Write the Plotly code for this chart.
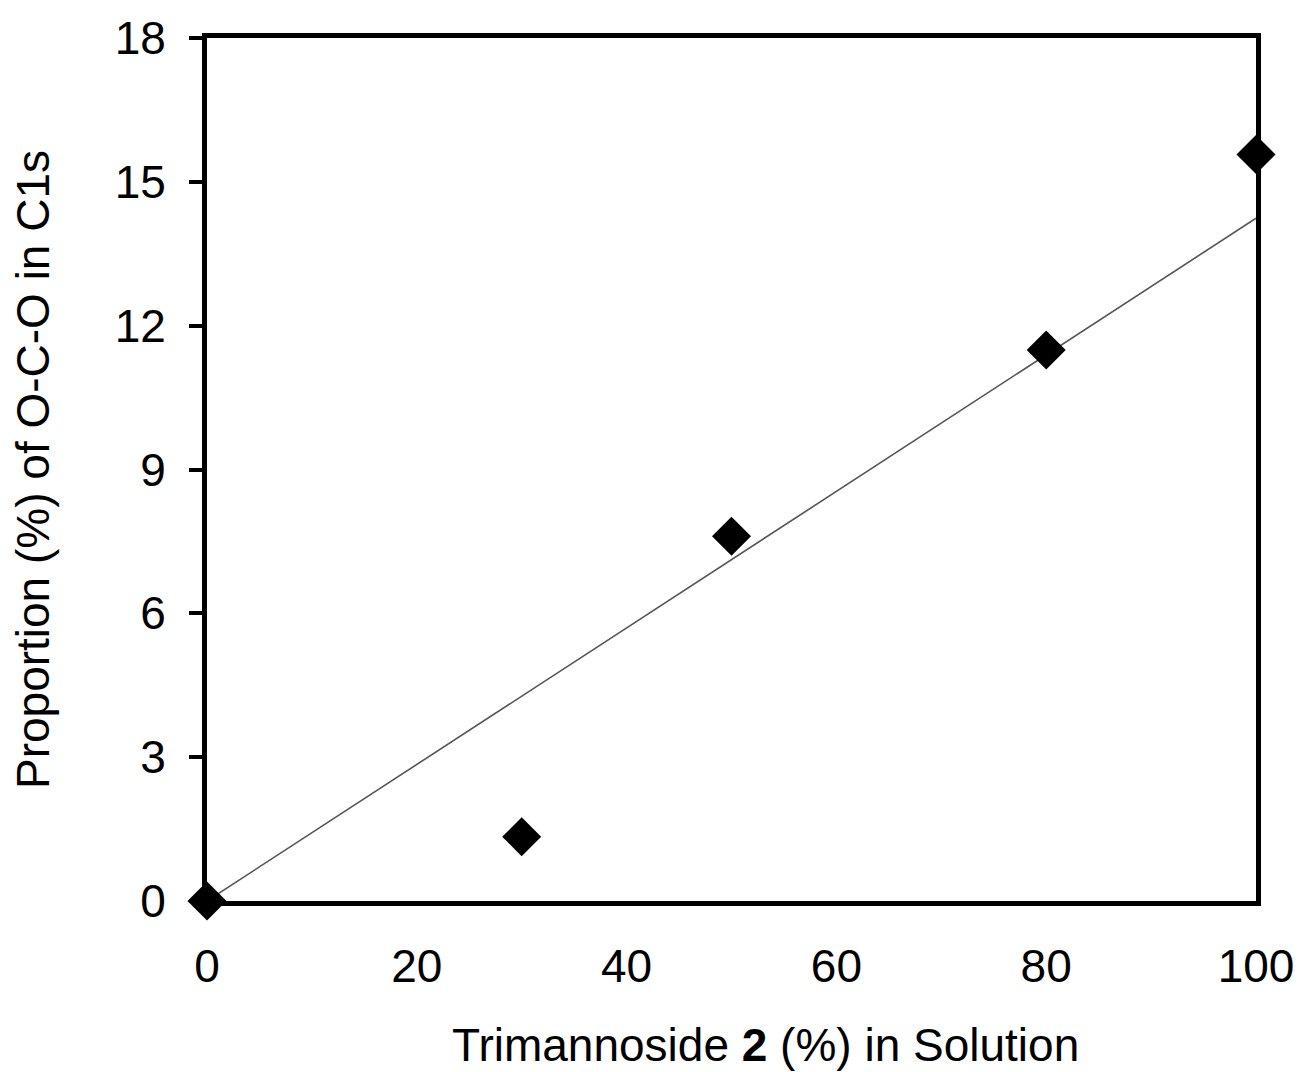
import plotly.graph_objects as go

# Data
trimannoside_pct = [0, 30, 50, 80, 100]
oco_pct = [0, 1.34, 7.61, 11.49, 15.57]
trend_x = [0, 100]
trend_y = [0, 14.24]

x_ticks = [0, 20, 40, 60, 80, 100]
y_ticks = [0, 3, 6, 9, 12, 15, 18]

FONT = "Liberation Sans, Arial, sans-serif"

fig = go.Figure()
fig.add_trace(go.Scatter(
    x=trend_x, y=trend_y, mode="lines",
    line=dict(color="#555555", width=1.6),
    hoverinfo="skip", showlegend=False, cliponaxis=False,
))
fig.add_trace(go.Scatter(
    x=trimannoside_pct, y=oco_pct, mode="markers",
    marker=dict(symbol="diamond", size=30, color="black"),
    showlegend=False, cliponaxis=False,
))

fig.update_layout(
    width=1306, height=1072,
    margin=dict(l=207, r=42, t=31, b=171),
    paper_bgcolor="white", plot_bgcolor="white",
    font=dict(family=FONT, size=46, color="black"),
    xaxis=dict(
        range=[0, 100], tickvals=x_ticks, ticktext=[str(v) for v in x_ticks],
        showgrid=False, zeroline=False,
        showline=True, linecolor="black", linewidth=5, mirror=True,
        ticks="outside", ticklen=21, tickcolor="rgba(0,0,0,0)",
        layer="below traces",
    ),
    yaxis=dict(
        range=[0, 18], tickvals=y_ticks, ticktext=[str(v) for v in y_ticks],
        showgrid=False, zeroline=False,
        showline=True, linecolor="black", linewidth=5, mirror=True,
        ticks="outside", ticklen=13, tickwidth=4, tickcolor="black",
        ticklabelstandoff=14,
        layer="below traces",
        title=dict(text="Proportion (%) of O-C-O in C1s",
                   font=dict(family=FONT, size=46), standoff=52),
    ),
    annotations=[dict(
        text="Trimannoside <b>2</b> (%) in Solution",
        xref="paper", yref="paper", x=0.532, y=-0.1669,
        xanchor="center", yanchor="middle", showarrow=False,
        font=dict(family=FONT, size=46, color="black"),
    )],
)

fig.write_html("out.html")
